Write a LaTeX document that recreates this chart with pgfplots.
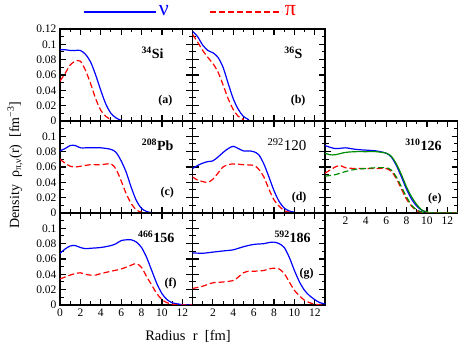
\documentclass[border=0pt]{standalone}
\usepackage{fontspec}
\setmainfont{Liberation Serif}
\usepackage{pgfplots}
\pgfplotsset{compat=1.18}
\definecolor{dkgreen}{rgb}{0,0.55,0}

\pgfplotsset{
  panel/.style={
    scale only axis, width=132.5pt, height=92pt, anchor=south west,
    xmin=0, xmax=13, ymin=0, ymax=0.12,
    xtick={0,2,4,6,8,10,12}, minor x tick num=1,
    ytick={0,0.02,0.04,0.06,0.08,0.1,0.12}, minor y tick num=1,
    xticklabels={}, yticklabels={},
    tick align=inside, major tick length=6pt, minor tick length=3.5pt,
    axis line style={line width=1.3pt},
    major tick style={black, line width=1.2pt},
    minor tick style={black, line width=1pt},
    tick label style={font=\fontsize{11.5}{11.5}\selectfont},
  },
}
\tikzset{
  nu/.style={blue, line width=1.2pt, smooth},
  pi/.style={red, line width=1.2pt, dash pattern=on 6pt off 3pt, smooth},
  lab/.style={anchor=base east, font=\bfseries\fontsize{12}{12}\selectfont},
  iso/.style={anchor=base east, font=\bfseries\fontsize{14}{14}\selectfont},
}

\begin{document}
\begin{tikzpicture}
\useasboundingbox (0pt,0pt) rectangle (458pt,345pt);

% (a) 34Si
\begin{axis}[panel, at={(60pt,224pt)},
  yticklabels={0,0.02,0.04,0.06,0.08,0.1,0.12},
  legend style={at={(0.985,1.19)}, anchor=center, draw=none, fill=none,
    legend columns=2, font=\fontsize{22}{22}\selectfont,
    /tikz/every even column/.append style={column sep=38pt}},
  legend image code/.code={\draw[#1, line width=2pt] (0pt,0pt) -- (72pt,0pt);}]
\addplot[nu] coordinates {(0,0.093) (0.5,0.093) (1,0.092) (1.5,0.092) (2,0.092) (2.5,0.087) (3,0.077) (3.5,0.060) (4,0.040) (4.5,0.022) (5,0.010) (5.5,0.004) (6,0.001) (6.5,0) (13,0)};
\addlegendentry{\textcolor{blue}{ν}}
\addplot[pi] coordinates {(0,0.052) (0.5,0.062) (1,0.073) (1.5,0.078) (2,0.078) (2.5,0.066) (3,0.049) (3.5,0.029) (4,0.014) (4.5,0.006) (5,0.002) (5.5,0) (13,0)};
\addlegendentry{\textcolor{red}{π}}
\node[iso] at (axis description cs:0.808,0.674) {\textsuperscript{34}Si};
\node[lab] at (axis description cs:0.875,0.185) {(a)};
\end{axis}

% (b) 36S
\begin{axis}[panel, at={(192.5pt,224pt)}]
\addplot[nu] coordinates {(0,0.117) (0.5,0.110) (1,0.099) (1.5,0.092) (2,0.089) (2.5,0.083) (3,0.070) (3.5,0.049) (4,0.029) (4.5,0.015) (5,0.006) (5.5,0.002) (6,0) (13,0)};
\addplot[pi] coordinates {(0,0.113) (0.5,0.103) (1,0.092) (1.5,0.083) (2,0.075) (2.5,0.064) (3,0.047) (3.5,0.029) (4,0.015) (4.5,0.006) (5,0.002) (5.5,0) (13,0)};
\node[iso] at (axis description cs:0.857,0.674) {\textsuperscript{36}S};
\node[lab] at (axis description cs:0.879,0.185) {(b)};
\end{axis}

% (c) 208Pb
\begin{axis}[panel, at={(60pt,132pt)},
  yticklabels={0,0.02,0.04,0.06,0.08,0.1,}]
\addplot[nu] coordinates {(0,0.081) (0.5,0.084) (1,0.088) (1.5,0.088) (2,0.085) (2.5,0.085) (3,0.085) (4,0.085) (5,0.083) (5.5,0.079) (6,0.068) (6.5,0.053) (7,0.033) (7.5,0.016) (8,0.006) (8.5,0.002) (9,0.0005) (10,0) (13,0)};
\addplot[pi] coordinates {(0,0.070) (0.5,0.065) (1,0.061) (1.5,0.060) (2,0.061) (3,0.063) (4,0.063) (5,0.064) (5.5,0.057) (6,0.042) (6.5,0.025) (7,0.012) (7.5,0.004) (8,0.001) (8.5,0) (13,0)};
\node[iso] at (axis description cs:0.883,0.674) {\textsuperscript{208}Pb};
\node[lab] at (axis description cs:0.887,0.185) {(c)};
\end{axis}

% (d) 292 120
\begin{axis}[panel, at={(192.5pt,132pt)}]
\addplot[nu] coordinates {(0,0.058) (0.5,0.062) (1,0.065) (1.5,0.067) (2,0.068) (2.5,0.073) (3,0.079) (3.5,0.084) (4,0.087) (4.5,0.084) (5,0.081) (5.5,0.081) (6,0.080) (6.5,0.076) (7,0.064) (7.5,0.047) (8,0.029) (8.5,0.015) (9,0.0065) (9.5,0.0026) (10,0.001) (10.5,0) (13,0)};
\addplot[pi] coordinates {(0,0.047) (0.5,0.043) (1,0.041) (1.5,0.040) (2,0.044) (2.5,0.052) (3,0.060) (3.5,0.063) (4,0.064) (5,0.063) (6,0.062) (6.5,0.057) (7,0.047) (7.5,0.031) (8,0.017) (8.5,0.009) (9,0.003) (9.5,0.001) (10,0) (13,0)};
\node[iso, font=\fontsize{15}{15}\selectfont] at (axis description cs:0.887,0.674) {\textsuperscript{292}120};
\node[lab] at (axis description cs:0.887,0.141) {(d)};
\end{axis}

% (e) 310 126
\begin{axis}[panel, at={(325pt,132pt)},
  xticklabels={,2,4,6,8,10,12}]
\addplot[nu] coordinates {(0,0.088) (1,0.084) (2,0.085) (3,0.083) (4,0.082) (5,0.081) (6,0.078) (6.5,0.073) (7,0.062) (7.5,0.047) (8,0.031) (8.5,0.018) (9,0.009) (9.5,0.0035) (10,0.001) (10.5,0) (13,0)};
\addplot[dkgreen, line width=1.2pt, smooth] coordinates {(0,0.078) (0.5,0.076) (1,0.076) (2,0.079) (3,0.080) (4,0.080) (5,0.080) (6,0.078) (6.5,0.074) (7,0.064) (7.5,0.050) (8,0.034) (8.5,0.021) (9,0.011) (9.5,0.004) (10,0.0015) (10.5,0) (13,0)};
\addplot[pi] coordinates {(0,0.052) (0.5,0.056) (1,0.060) (1.5,0.062) (2,0.059) (3,0.058) (4,0.058) (5,0.058) (6,0.058) (6.5,0.054) (7,0.045) (7.5,0.031) (8,0.018) (8.5,0.009) (9,0.003) (9.5,0.001) (10,0) (13,0)};
\addplot[dkgreen, line width=1.2pt, dash pattern=on 6pt off 3pt, smooth] coordinates {(0,0.048) (1,0.050) (2,0.054) (3,0.057) (4,0.058) (5,0.059) (6,0.059) (6.5,0.056) (7,0.047) (7.5,0.034) (8,0.021) (8.5,0.010) (9,0.004) (9.5,0.0015) (10,0) (13,0)};
\node[iso] at (axis description cs:0.906,0.674) {\textsuperscript{310}126};
\node[lab] at (axis description cs:0.906,0.13) {(e)};
\end{axis}

% (f) 466 156
\begin{axis}[panel, at={(60pt,40pt)},
  xticklabels={0,2,4,6,8,10,12},
  yticklabels={0,0.02,0.04,0.06,0.08,0.1,}]
\addplot[nu] coordinates {(0,0.0675) (0.5,0.073) (1,0.077) (1.5,0.0775) (2,0.075) (2.5,0.0735) (3,0.074) (4,0.075) (5,0.0775) (5.5,0.080) (6,0.084) (6.5,0.085) (7,0.085) (7.5,0.082) (8,0.075) (8.5,0.062) (9,0.045) (9.5,0.028) (10,0.015) (10.5,0.007) (11,0.003) (11.5,0.0015) (12,0.0005) (12.5,0) (13,0)};
\addplot[pi] coordinates {(0,0.034) (0.5,0.0365) (1,0.039) (1.5,0.041) (2,0.042) (2.5,0.040) (3,0.039) (3.5,0.039) (4,0.041) (5,0.044) (6,0.047) (7,0.052) (7.5,0.054) (8,0.049) (8.5,0.037) (9,0.026) (9.5,0.015) (10,0.007) (10.5,0.003) (11,0.001) (11.5,0) (13,0)};
\node[iso] at (axis description cs:0.89,0.674) {\textsuperscript{466}156};
\node[lab] at (axis description cs:0.906,0.196) {(f)};
\end{axis}

% (g) 592 186
\begin{axis}[panel, at={(192.5pt,40pt)},
  xticklabels={,2,4,6,8,10,12}]
\addplot[nu] coordinates {(0,0.068) (1,0.0675) (2,0.069) (3,0.0705) (4,0.072) (5,0.076) (6,0.079) (7,0.080) (7.5,0.0815) (8,0.082) (8.5,0.080) (9,0.075) (9.5,0.062) (10,0.045) (10.5,0.030) (11,0.019) (11.5,0.012) (12,0.007) (12.5,0.003) (13,0.0015)};
\addplot[pi] coordinates {(0,0.0215) (1,0.0245) (2,0.029) (3,0.030) (4,0.032) (4.5,0.0365) (5,0.042) (5.5,0.044) (6,0.044) (7,0.045) (7.5,0.047) (8,0.048) (8.5,0.047) (9,0.041) (9.5,0.030) (10,0.019) (10.5,0.012) (11,0.006) (11.5,0.003) (12,0.001) (12.5,0) (13,0)};
\node[iso] at (axis description cs:0.919,0.674) {\textsuperscript{592}186};
\node[lab] at (axis description cs:0.94,0.315) {(g)};
\end{axis}

\node[rotate=90, font=\fontsize{14}{14}\selectfont] at (15pt,180pt)
  {Density\ \ ρ\textsubscript{π,ν}(r)\ \ [fm\textsuperscript{−3}]};
\node[font=\fontsize{14.5}{14.5}\selectfont] at (188pt,9pt) {Radius\ \ r\ \ [fm]};
\end{tikzpicture}
\end{document}
